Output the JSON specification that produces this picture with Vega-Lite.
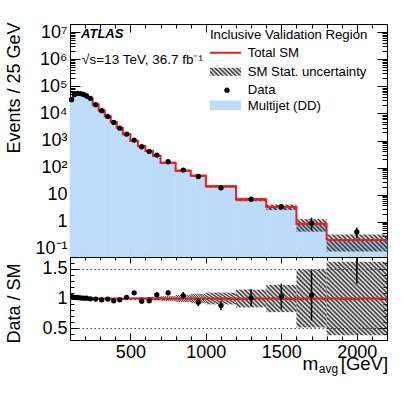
{
"$schema":"https://vega.github.io/schema/vega-lite/v6.json",
"background":"white",
"padding":{"left":4,"top":14,"right":0,"bottom":0},
"spacing":0,
"bounds":"flush",
"resolve":{"scale":{"x":"independent","y":"independent"}},
"config":{
 "view":{"stroke":"black","strokeWidth":1},
 "font":"Liberation Sans",
 "axis":{"domain":false,"grid":false,"labelFont":"Liberation Sans","titleFont":"Liberation Sans","labelColor":"black","titleColor":"black","tickColor":"black","tickWidth":1,"labelFontSize":18,"titleFontSize":18,"titleFontWeight":"normal","labelFlush":false,"labelOverlap":false,"labelBound":false}
},
"datasets":{"bins":[
{"lo":100,"hi":120,"c":110,"sm":31140,"slo":30984,"shi":31296,"data":32200,"dlo":32000,"dhi":32400,"ratio":1.034,"rlo":1.028,"rhi":1.040,"blo":0.995,"bhi":1.005},
{"lo":120,"hi":140,"c":130,"sm":49020,"slo":48775,"shi":49265,"data":50000,"dlo":49750,"dhi":50250,"ratio":1.020,"rlo":1.015,"rhi":1.025,"blo":0.995,"bhi":1.005},
{"lo":140,"hi":160,"c":150,"sm":54080,"slo":53810,"shi":54350,"data":55000,"dlo":54740,"dhi":55260,"ratio":1.017,"rlo":1.012,"rhi":1.022,"blo":0.995,"bhi":1.005},
{"lo":160,"hi":180,"c":170,"sm":53470,"slo":53203,"shi":53737,"data":54000,"dlo":53740,"dhi":54260,"ratio":1.010,"rlo":1.005,"rhi":1.015,"blo":0.995,"bhi":1.005},
{"lo":180,"hi":200,"c":190,"sm":49700,"slo":49452,"shi":49949,"data":50000,"dlo":49750,"dhi":50250,"ratio":1.006,"rlo":1.001,"rhi":1.011,"blo":0.995,"bhi":1.005},
{"lo":200,"hi":220,"c":210,"sm":43740,"slo":43521,"shi":43959,"data":44000,"dlo":43770,"dhi":44230,"ratio":1.006,"rlo":1.001,"rhi":1.011,"blo":0.995,"bhi":1.005},
{"lo":220,"hi":250,"c":235,"sm":36180,"slo":35999,"shi":36361,"data":36000,"dlo":35830,"dhi":36170,"ratio":0.995,"rlo":0.990,"rhi":1.000,"blo":0.995,"bhi":1.005},
{"lo":250,"hi":290,"c":270,"sm":21210,"slo":21104,"shi":21316,"data":21000,"dlo":20880,"dhi":21120,"ratio":0.990,"rlo":0.985,"rhi":0.995,"blo":0.995,"bhi":1.005},
{"lo":290,"hi":330,"c":310,"sm":12880,"slo":12777,"shi":12983,"data":12600,"dlo":12510,"dhi":12690,"ratio":0.978,"rlo":0.971,"rhi":0.985,"blo":0.992,"bhi":1.008},
{"lo":330,"hi":370,"c":350,"sm":7850,"slo":7787,"shi":7913,"data":7770,"dlo":7700,"dhi":7840,"ratio":0.990,"rlo":0.981,"rhi":0.999,"blo":0.992,"bhi":1.008},
{"lo":370,"hi":410,"c":390,"sm":4850,"slo":4811,"shi":4889,"data":4660,"dlo":4606,"dhi":4714,"ratio":0.960,"rlo":0.949,"rhi":0.971,"blo":0.992,"bhi":1.008},
{"lo":410,"hi":450,"c":430,"sm":2900,"slo":2877,"shi":2923,"data":2840,"dlo":2798,"dhi":2882,"ratio":0.978,"rlo":0.964,"rhi":0.992,"blo":0.992,"bhi":1.008},
{"lo":450,"hi":500,"c":475,"sm":1700,"slo":1680,"shi":1720,"data":1730,"dlo":1701,"dhi":1759,"ratio":1.020,"rlo":1.003,"rhi":1.037,"blo":0.988,"bhi":1.012},
{"lo":500,"hi":550,"c":525,"sm":950,"slo":936,"shi":964,"data":1040,"dlo":1017,"dhi":1063,"ratio":1.096,"rlo":1.072,"rhi":1.120,"blo":0.985,"bhi":1.015},
{"lo":550,"hi":600,"c":575,"sm":616,"slo":604,"shi":628,"data":588,"dlo":571,"dhi":605,"ratio":0.955,"rlo":0.927,"rhi":0.983,"blo":0.980,"bhi":1.020},
{"lo":600,"hi":650,"c":625,"sm":410,"slo":400,"shi":420,"data":394,"dlo":380,"dhi":408,"ratio":0.960,"rlo":0.925,"rhi":0.995,"blo":0.975,"bhi":1.025},
{"lo":650,"hi":700,"c":675,"sm":273,"slo":265,"shi":281,"data":290,"dlo":278,"dhi":302,"ratio":1.062,"rlo":1.018,"rhi":1.106,"blo":0.970,"bhi":1.030},
{"lo":700,"hi":800,"c":750,"sm":150,"slo":144,"shi":156,"data":164,"dlo":158,"dhi":170,"ratio":1.096,"rlo":1.053,"rhi":1.139,"blo":0.960,"bhi":1.040},
{"lo":800,"hi":900,"c":850,"sm":76.9,"slo":72.3,"shi":81.5,"data":80.7,"dlo":76.2,"dhi":85.2,"ratio":1.050,"rlo":0.991,"rhi":1.109,"blo":0.940,"bhi":1.060},
{"lo":900,"hi":1000,"c":950,"sm":49.9,"slo":45.9,"shi":53.9,"data":46.8,"dlo":43.4,"dhi":50.2,"ratio":0.937,"rlo":0.868,"rhi":1.006,"blo":0.920,"bhi":1.080},
{"lo":1000,"hi":1200,"c":1100,"sm":20.3,"slo":18.3,"shi":22.3,"data":17.9,"dlo":16.4,"dhi":19.4,"ratio":0.880,"rlo":0.806,"rhi":0.954,"blo":0.900,"bhi":1.100},
{"lo":1200,"hi":1400,"c":1300,"sm":6.7,"slo":5.7,"shi":7.7,"data":6.8,"dlo":5.85,"dhi":7.75,"ratio":1.010,"rlo":0.863,"rhi":1.157,"blo":0.850,"bhi":1.150},
{"lo":1400,"hi":1600,"c":1500,"sm":3.5,"slo":2.7,"shi":4.3,"data":3.6,"dlo":2.9,"dhi":4.4,"ratio":1.034,"rlo":0.824,"rhi":1.250,"blo":0.770,"bhi":1.230},
{"lo":1600,"hi":1800,"c":1700,"sm":0.84,"slo":0.43,"shi":1.25,"data":0.88,"dlo":0.5,"dhi":1.42,"ratio":1.056,"rlo":0.627,"rhi":1.475,"blo":0.510,"bhi":1.490},
{"lo":1800,"hi":2200,"c":2000,"sm":0.21,"slo":0.08,"shi":0.34,"data":0.42,"dlo":0.24,"dhi":0.62,"ratio":2.0,"rlo":1.25,"rhi":2.75,"blo":0.380,"bhi":1.620}
]},
"vconcat":[
{
"width":317,"height":233,
"resolve":{"axis":{"x":"independent","y":"independent"}},
"layer":[
 {"data":{"name":"bins"},
  "mark":{"type":"rect","fill":"#bddcfb","stroke":"#bddcfb","strokeWidth":0.6},
  "encoding":{
   "x":{"field":"lo","type":"quantitative","scale":{"domain":[100,2200],"nice":false,"zero":false},
        "axis":{"orient":"bottom","values":[100,200,300,400,500,600,700,800,900,1000,1100,1200,1300,1400,1500,1600,1700,1800,1900,2000,2100,2200],"labels":false,"title":null,"tickSize":{"condition":{"test":"datum.value % 500 !== 0","value":-4},"value":-8}}},
   "x2":{"field":"hi"},
   "y":{"field":"sm","type":"quantitative","scale":{"type":"log","domain":[0.05,20000000],"nice":false},
        "axis":{"orient":"left","values":[0.05,0.06,0.07,0.08,0.09,0.1,0.2,0.3,0.4,0.5,0.6,0.7,0.8,0.9,1,2,3,4,5,6,7,8,9,10,20,30,40,50,60,70,80,90,100,200,300,400,500,600,700,800,900,1000,2000,3000,4000,5000,6000,7000,8000,9000,10000,20000,30000,40000,50000,60000,70000,80000,90000,100000,200000,300000,400000,500000,600000,700000,800000,900000,1000000,2000000,3000000,4000000,5000000,6000000,7000000,8000000,9000000,10000000,20000000],
        "labelExpr":"abs(log(datum.value)/LN10 - round(log(datum.value)/LN10)) > 0.001 ? '' : ['10⁻¹','1','10','10²','10³','10⁴','10⁵','10⁶','10⁷'][round(log(datum.value)/LN10)+1]",
        "labelPadding":13,
        "tickSize":{"condition":{"test":"abs(log(datum.value)/LN10 - round(log(datum.value)/LN10)) > 0.001","value":-5},"value":-10},
        "title":"Events / 25 GeV","titleAngle":-90,"titleAlign":"right","titleBaseline":"alphabetic","titleX":-50.7,"titleY":-2}},
   "y2":{"datum":0.05}
  }},
 {"data":{"name":"bins"},"transform":[{"filter":"datum.lo < 1600"}],
  "mark":{"type":"rect","strokeWidth":0,"fill":{"gradient":"linear","x1":0,"y1":1,"x2":1.12,"y2":0.83,"stops":[
   {"offset":0,"color":"#333333"},{"offset":0.0714,"color":"transparent"},{"offset":0.1429,"color":"#333333"},{"offset":0.2143,"color":"transparent"},{"offset":0.2857,"color":"#333333"},{"offset":0.3571,"color":"transparent"},{"offset":0.4286,"color":"#333333"},{"offset":0.5,"color":"transparent"},{"offset":0.5714,"color":"#333333"},{"offset":0.6429,"color":"transparent"},{"offset":0.7143,"color":"#333333"},{"offset":0.7857,"color":"transparent"},{"offset":0.8571,"color":"#333333"},{"offset":0.9286,"color":"transparent"},{"offset":1,"color":"#333333"}]}},
  "encoding":{"x":{"field":"lo","type":"quantitative","axis":null},"x2":{"field":"hi"},"y":{"field":"slo","type":"quantitative","axis":null},"y2":{"field":"shi"}}},
 {"data":{"name":"bins"},"transform":[{"filter":"datum.lo == 1600"}],
  "mark":{"type":"rect","strokeWidth":0,"fill":{"gradient":"linear","x1":0,"y1":1,"x2":1.207,"y2":0.498,"stops":[
   {"offset":0,"color":"#333333"},{"offset":0.05,"color":"transparent"},{"offset":0.1,"color":"#333333"},{"offset":0.15,"color":"transparent"},{"offset":0.2,"color":"#333333"},{"offset":0.25,"color":"transparent"},{"offset":0.3,"color":"#333333"},{"offset":0.35,"color":"transparent"},{"offset":0.4,"color":"#333333"},{"offset":0.45,"color":"transparent"},{"offset":0.5,"color":"#333333"},{"offset":0.55,"color":"transparent"},{"offset":0.6,"color":"#333333"},{"offset":0.65,"color":"transparent"},{"offset":0.7,"color":"#333333"},{"offset":0.75,"color":"transparent"},{"offset":0.8,"color":"#333333"},{"offset":0.85,"color":"transparent"},{"offset":0.9,"color":"#333333"},{"offset":0.95,"color":"transparent"},{"offset":1,"color":"#333333"}]}},
  "encoding":{"x":{"field":"lo","type":"quantitative","axis":null},"x2":{"field":"hi"},"y":{"field":"slo","type":"quantitative","axis":null},"y2":{"field":"shi"}}},
 {"data":{"name":"bins"},"transform":[{"filter":"datum.lo == 1800"}],
  "mark":{"type":"rect","strokeWidth":0,"fill":{"gradient":"linear","x1":0,"y1":1,"x2":1.188,"y2":0.665,"stops":[
   {"offset":0,"color":"#333333"},{"offset":0.0294,"color":"transparent"},{"offset":0.0588,"color":"#333333"},{"offset":0.0882,"color":"transparent"},{"offset":0.1176,"color":"#333333"},{"offset":0.1471,"color":"transparent"},{"offset":0.1765,"color":"#333333"},{"offset":0.2059,"color":"transparent"},{"offset":0.2353,"color":"#333333"},{"offset":0.2647,"color":"transparent"},{"offset":0.2941,"color":"#333333"},{"offset":0.3235,"color":"transparent"},{"offset":0.3529,"color":"#333333"},{"offset":0.3824,"color":"transparent"},{"offset":0.4118,"color":"#333333"},{"offset":0.4412,"color":"transparent"},{"offset":0.4706,"color":"#333333"},{"offset":0.5,"color":"transparent"},{"offset":0.5294,"color":"#333333"},{"offset":0.5588,"color":"transparent"},{"offset":0.5882,"color":"#333333"},{"offset":0.6176,"color":"transparent"},{"offset":0.6471,"color":"#333333"},{"offset":0.6765,"color":"transparent"},{"offset":0.7059,"color":"#333333"},{"offset":0.7353,"color":"transparent"},{"offset":0.7647,"color":"#333333"},{"offset":0.7941,"color":"transparent"},{"offset":0.8235,"color":"#333333"},{"offset":0.8529,"color":"transparent"},{"offset":0.8824,"color":"#333333"},{"offset":0.9118,"color":"transparent"},{"offset":0.9412,"color":"#333333"},{"offset":0.9706,"color":"transparent"},{"offset":1,"color":"#333333"}]}},
  "encoding":{"x":{"field":"lo","type":"quantitative","axis":null},"x2":{"field":"hi"},"y":{"field":"slo","type":"quantitative","axis":null},"y2":{"field":"shi"}}},
 {"data":{"name":"bins"},"mark":{"type":"rule","color":"#ee1c1c","strokeWidth":2},
  "encoding":{"x":{"field":"lo","type":"quantitative","axis":null},"x2":{"field":"hi"},"y":{"field":"sm","type":"quantitative","axis":null}}},
 {"data":{"name":"bins"},"mark":{"type":"line","color":"#ee1c1c","strokeWidth":2,"interpolate":"step-after"},
  "encoding":{
   "x":{"field":"lo","type":"quantitative","axis":{"orient":"top","values":[100,200,300,400,500,600,700,800,900,1000,1100,1200,1300,1400,1500,1600,1700,1800,1900,2000,2100,2200],"labels":false,"title":null,"tickSize":{"condition":{"test":"datum.value % 500 !== 0","value":-4},"value":-8}}},
   "y":{"field":"sm","type":"quantitative","axis":{"orient":"right","values":[0.05,0.06,0.07,0.08,0.09,0.1,0.2,0.3,0.4,0.5,0.6,0.7,0.8,0.9,1,2,3,4,5,6,7,8,9,10,20,30,40,50,60,70,80,90,100,200,300,400,500,600,700,800,900,1000,2000,3000,4000,5000,6000,7000,8000,9000,10000,20000,30000,40000,50000,60000,70000,80000,90000,100000,200000,300000,400000,500000,600000,700000,800000,900000,1000000,2000000,3000000,4000000,5000000,6000000,7000000,8000000,9000000,10000000,20000000],"labels":false,"title":null,"tickSize":{"condition":{"test":"abs(log(datum.value)/LN10 - round(log(datum.value)/LN10)) > 0.001","value":-5},"value":-10}}}}},
 {"data":{"name":"bins"},"mark":{"type":"rule","color":"black","strokeWidth":1.5},
  "encoding":{"x":{"field":"c","type":"quantitative","axis":null},"y":{"field":"dlo","type":"quantitative","axis":null},"y2":{"field":"dhi"}}},
 {"data":{"name":"bins"},"mark":{"type":"circle","size":28,"color":"black","opacity":1},
  "encoding":{"x":{"field":"c","type":"quantitative","axis":null},"y":{"field":"data","type":"quantitative","axis":null}}},
 {"data":{"values":[{}]},"mark":{"type":"text","text":"ATLAS","fontStyle":"italic","fontWeight":"bold","fontSize":13,"align":"left","baseline":"middle","color":"black"},
  "encoding":{"x":{"datum":173,"type":"quantitative","axis":null},"y":{"datum":8500000,"type":"quantitative","axis":null}}},
 {"data":{"values":[{}]},"mark":{"type":"text","text":"√s=13 TeV, 36.7 fb⁻¹","fontSize":13.5,"align":"left","baseline":"middle","color":"black"},
  "encoding":{"x":{"datum":180,"type":"quantitative","axis":null},"y":{"datum":910000,"type":"quantitative","axis":null}}},
 {"data":{"values":[{}]},"mark":{"type":"text","text":"Inclusive Validation Region","fontSize":13.2,"align":"left","baseline":"middle","color":"black"},
  "encoding":{"x":{"datum":1027,"type":"quantitative","axis":null},"y":{"datum":7600000,"type":"quantitative","axis":null}}},
 {"data":{"values":[{}]},"mark":{"type":"rule","color":"#ee1c1c","strokeWidth":2},
  "encoding":{"x":{"datum":1027,"type":"quantitative","axis":null},"x2":{"datum":1233},"y":{"datum":1750000,"type":"quantitative","axis":null}}},
 {"data":{"values":[{}]},"mark":{"type":"text","text":"Total SM","fontSize":13.2,"align":"left","baseline":"middle","color":"black"},
  "encoding":{"x":{"datum":1277,"type":"quantitative","axis":null},"y":{"datum":1750000,"type":"quantitative","axis":null}}},
 {"data":{"values":[{}]},
  "mark":{"type":"rect","strokeWidth":0,"fill":{"gradient":"linear","x1":0,"y1":1,"x2":1.179,"y2":0.696,"stops":[
   {"offset":0,"color":"#333333"},{"offset":0.0556,"color":"transparent"},{"offset":0.1111,"color":"#333333"},{"offset":0.1667,"color":"transparent"},{"offset":0.2222,"color":"#333333"},{"offset":0.2778,"color":"transparent"},{"offset":0.3333,"color":"#333333"},{"offset":0.3889,"color":"transparent"},{"offset":0.4444,"color":"#333333"},{"offset":0.5,"color":"transparent"},{"offset":0.5556,"color":"#333333"},{"offset":0.6111,"color":"transparent"},{"offset":0.6667,"color":"#333333"},{"offset":0.7222,"color":"transparent"},{"offset":0.7778,"color":"#333333"},{"offset":0.8333,"color":"transparent"},{"offset":0.8889,"color":"#333333"},{"offset":0.9444,"color":"transparent"},{"offset":1,"color":"#333333"}]}},
  "encoding":{"x":{"datum":1027,"type":"quantitative","axis":null},"x2":{"datum":1233},"y":{"datum":245000,"type":"quantitative","axis":null},"y2":{"datum":480000}}},
 {"data":{"values":[{}]},"mark":{"type":"text","text":"SM Stat. uncertainty","fontSize":13.2,"align":"left","baseline":"middle","color":"black"},
  "encoding":{"x":{"datum":1277,"type":"quantitative","axis":null},"y":{"datum":340000,"type":"quantitative","axis":null}}},
 {"data":{"values":[{}]},"mark":{"type":"circle","size":28,"color":"black","opacity":1},
  "encoding":{"x":{"datum":1140,"type":"quantitative","axis":null},"y":{"datum":72000,"type":"quantitative","axis":null}}},
 {"data":{"values":[{}]},"mark":{"type":"text","text":"Data","fontSize":13.2,"align":"left","baseline":"middle","color":"black"},
  "encoding":{"x":{"datum":1277,"type":"quantitative","axis":null},"y":{"datum":72000,"type":"quantitative","axis":null}}},
 {"data":{"values":[{}]},"mark":{"type":"rect","fill":"#bddcfb"},
  "encoding":{"x":{"datum":1027,"type":"quantitative","axis":null},"x2":{"datum":1233},"y":{"datum":13000,"type":"quantitative","axis":null},"y2":{"datum":30000}}},
 {"data":{"values":[{}]},"mark":{"type":"text","text":"Multijet (DD)","fontSize":13.2,"align":"left","baseline":"middle","color":"black"},
  "encoding":{"x":{"datum":1277,"type":"quantitative","axis":null},"y":{"datum":19500,"type":"quantitative","axis":null}}}
]},
{
"width":317,"height":83,
"resolve":{"axis":{"x":"independent","y":"independent"}},
"layer":[
 {"data":{"name":"bins"},"transform":[{"filter":"datum.lo < 1400"}],
  "mark":{"type":"rect","strokeWidth":0,"fill":{"gradient":"linear","x1":0,"y1":1,"x2":1.18,"y2":0.305,"stops":[
   {"offset":0,"color":"#333333"},{"offset":0.0455,"color":"transparent"},{"offset":0.0909,"color":"#333333"},{"offset":0.1364,"color":"transparent"},{"offset":0.1818,"color":"#333333"},{"offset":0.2273,"color":"transparent"},{"offset":0.2727,"color":"#333333"},{"offset":0.3182,"color":"transparent"},{"offset":0.3636,"color":"#333333"},{"offset":0.4091,"color":"transparent"},{"offset":0.4545,"color":"#333333"},{"offset":0.5,"color":"transparent"},{"offset":0.5455,"color":"#333333"},{"offset":0.5909,"color":"transparent"},{"offset":0.6364,"color":"#333333"},{"offset":0.6818,"color":"transparent"},{"offset":0.7273,"color":"#333333"},{"offset":0.7727,"color":"transparent"},{"offset":0.8182,"color":"#333333"},{"offset":0.8636,"color":"transparent"},{"offset":0.9091,"color":"#333333"},{"offset":0.9545,"color":"transparent"},{"offset":1,"color":"#333333"}]}},
  "encoding":{
   "x":{"field":"lo","type":"quantitative","scale":{"domain":[100,2200],"nice":false,"zero":false},
        "axis":{"orient":"bottom","values":[100,200,300,400,500,600,700,800,900,1000,1100,1200,1300,1400,1500,1600,1700,1800,1900,2000,2100,2200],"labelExpr":"datum.value % 500 === 0 ? format(datum.value, 'd') : ''","labelPadding":10,"title":null,"tickSize":{"condition":{"test":"datum.value % 500 !== 0","value":-4},"value":-7}}},
   "x2":{"field":"hi"},
   "y":{"field":"blo","type":"quantitative","scale":{"domain":[0.3,1.7],"nice":false,"zero":false},
        "axis":{"orient":"left","values":[0.3,0.4,0.5,0.6,0.7,0.8,0.9,1,1.1,1.2,1.3,1.4,1.5,1.6,1.7],
        "labelExpr":"datum.value === 0.5 ? '0.5' : datum.value === 1 ? '1' : datum.value === 1.5 ? '1.5' : ''",
        "labelPadding":11,
        "tickSize":{"condition":{"test":"datum.value !== 0.5 && datum.value !== 1 && datum.value !== 1.5","value":-4},"value":-8},
        "grid":true,"gridDash":[1.5,2.5],"gridColor":"#444444","gridWidth":1,
        "gridOpacity":{"condition":{"test":"datum.value === 0.5 || datum.value === 1 || datum.value === 1.5","value":1},"value":0},
        "title":"Data / SM","titleAngle":-90,"titleAlign":"right","titleBaseline":"alphabetic","titleX":-50.7,"titleY":6}},
   "y2":{"field":"bhi"}
  }},
 {"data":{"name":"bins"},"transform":[{"filter":"datum.lo == 1400"}],
  "mark":{"type":"rect","strokeWidth":0,"fill":{"gradient":"linear","x1":0,"y1":1,"x2":1.048,"y2":0.053,"stops":[
   {"offset":0,"color":"#333333"},{"offset":0.0385,"color":"transparent"},{"offset":0.0769,"color":"#333333"},{"offset":0.1154,"color":"transparent"},{"offset":0.1538,"color":"#333333"},{"offset":0.1923,"color":"transparent"},{"offset":0.2308,"color":"#333333"},{"offset":0.2692,"color":"transparent"},{"offset":0.3077,"color":"#333333"},{"offset":0.3462,"color":"transparent"},{"offset":0.3846,"color":"#333333"},{"offset":0.4231,"color":"transparent"},{"offset":0.4615,"color":"#333333"},{"offset":0.5,"color":"transparent"},{"offset":0.5385,"color":"#333333"},{"offset":0.5769,"color":"transparent"},{"offset":0.6154,"color":"#333333"},{"offset":0.6538,"color":"transparent"},{"offset":0.6923,"color":"#333333"},{"offset":0.7308,"color":"transparent"},{"offset":0.7692,"color":"#333333"},{"offset":0.8077,"color":"transparent"},{"offset":0.8462,"color":"#333333"},{"offset":0.8846,"color":"transparent"},{"offset":0.9231,"color":"#333333"},{"offset":0.9615,"color":"transparent"},{"offset":1,"color":"#333333"}]}},
  "encoding":{"x":{"field":"lo","type":"quantitative","axis":null},"x2":{"field":"hi"},"y":{"field":"blo","type":"quantitative","axis":null},"y2":{"field":"bhi"}}},
 {"data":{"name":"bins"},"transform":[{"filter":"datum.lo == 1600"}],
  "mark":{"type":"rect","strokeWidth":0,"fill":{"gradient":"linear","x1":0,"y1":1,"x2":0.622,"y2":-0.197,"stops":[
   {"offset":0,"color":"#333333"},{"offset":0.0263,"color":"transparent"},{"offset":0.0526,"color":"#333333"},{"offset":0.0789,"color":"transparent"},{"offset":0.1053,"color":"#333333"},{"offset":0.1316,"color":"transparent"},{"offset":0.1579,"color":"#333333"},{"offset":0.1842,"color":"transparent"},{"offset":0.2105,"color":"#333333"},{"offset":0.2368,"color":"transparent"},{"offset":0.2632,"color":"#333333"},{"offset":0.2895,"color":"transparent"},{"offset":0.3158,"color":"#333333"},{"offset":0.3421,"color":"transparent"},{"offset":0.3684,"color":"#333333"},{"offset":0.3947,"color":"transparent"},{"offset":0.4211,"color":"#333333"},{"offset":0.4474,"color":"transparent"},{"offset":0.4737,"color":"#333333"},{"offset":0.5,"color":"transparent"},{"offset":0.5263,"color":"#333333"},{"offset":0.5526,"color":"transparent"},{"offset":0.5789,"color":"#333333"},{"offset":0.6053,"color":"transparent"},{"offset":0.6316,"color":"#333333"},{"offset":0.6579,"color":"transparent"},{"offset":0.6842,"color":"#333333"},{"offset":0.7105,"color":"transparent"},{"offset":0.7368,"color":"#333333"},{"offset":0.7632,"color":"transparent"},{"offset":0.7895,"color":"#333333"},{"offset":0.8158,"color":"transparent"},{"offset":0.8421,"color":"#333333"},{"offset":0.8684,"color":"transparent"},{"offset":0.8947,"color":"#333333"},{"offset":0.9211,"color":"transparent"},{"offset":0.9474,"color":"#333333"},{"offset":0.9737,"color":"transparent"},{"offset":1,"color":"#333333"}]}},
  "encoding":{"x":{"field":"lo","type":"quantitative","axis":null},"x2":{"field":"hi"},"y":{"field":"blo","type":"quantitative","axis":null},"y2":{"field":"bhi"}}},
 {"data":{"name":"bins"},"transform":[{"filter":"datum.lo == 1800"}],
  "mark":{"type":"rect","strokeWidth":0,"fill":{"gradient":"linear","x1":0,"y1":1,"x2":0.894,"y2":-0.088,"stops":[
   {"offset":0,"color":"#333333"},{"offset":0.0167,"color":"transparent"},{"offset":0.0333,"color":"#333333"},{"offset":0.05,"color":"transparent"},{"offset":0.0667,"color":"#333333"},{"offset":0.0833,"color":"transparent"},{"offset":0.1,"color":"#333333"},{"offset":0.1167,"color":"transparent"},{"offset":0.1333,"color":"#333333"},{"offset":0.15,"color":"transparent"},{"offset":0.1667,"color":"#333333"},{"offset":0.1833,"color":"transparent"},{"offset":0.2,"color":"#333333"},{"offset":0.2167,"color":"transparent"},{"offset":0.2333,"color":"#333333"},{"offset":0.25,"color":"transparent"},{"offset":0.2667,"color":"#333333"},{"offset":0.2833,"color":"transparent"},{"offset":0.3,"color":"#333333"},{"offset":0.3167,"color":"transparent"},{"offset":0.3333,"color":"#333333"},{"offset":0.35,"color":"transparent"},{"offset":0.3667,"color":"#333333"},{"offset":0.3833,"color":"transparent"},{"offset":0.4,"color":"#333333"},{"offset":0.4167,"color":"transparent"},{"offset":0.4333,"color":"#333333"},{"offset":0.45,"color":"transparent"},{"offset":0.4667,"color":"#333333"},{"offset":0.4833,"color":"transparent"},{"offset":0.5,"color":"#333333"},{"offset":0.5167,"color":"transparent"},{"offset":0.5333,"color":"#333333"},{"offset":0.55,"color":"transparent"},{"offset":0.5667,"color":"#333333"},{"offset":0.5833,"color":"transparent"},{"offset":0.6,"color":"#333333"},{"offset":0.6167,"color":"transparent"},{"offset":0.6333,"color":"#333333"},{"offset":0.65,"color":"transparent"},{"offset":0.6667,"color":"#333333"},{"offset":0.6833,"color":"transparent"},{"offset":0.7,"color":"#333333"},{"offset":0.7167,"color":"transparent"},{"offset":0.7333,"color":"#333333"},{"offset":0.75,"color":"transparent"},{"offset":0.7667,"color":"#333333"},{"offset":0.7833,"color":"transparent"},{"offset":0.8,"color":"#333333"},{"offset":0.8167,"color":"transparent"},{"offset":0.8333,"color":"#333333"},{"offset":0.85,"color":"transparent"},{"offset":0.8667,"color":"#333333"},{"offset":0.8833,"color":"transparent"},{"offset":0.9,"color":"#333333"},{"offset":0.9167,"color":"transparent"},{"offset":0.9333,"color":"#333333"},{"offset":0.95,"color":"transparent"},{"offset":0.9667,"color":"#333333"},{"offset":0.9833,"color":"transparent"},{"offset":1,"color":"#333333"}]}},
  "encoding":{"x":{"field":"lo","type":"quantitative","axis":null},"x2":{"field":"hi"},"y":{"field":"blo","type":"quantitative","axis":null},"y2":{"field":"bhi"}}},
 {"data":{"values":[{}]},"mark":{"type":"rule","color":"#ee1c1c","strokeWidth":2},
  "encoding":{"x":{"datum":100,"type":"quantitative","axis":null},"x2":{"datum":2200},"y":{"datum":1,"type":"quantitative","axis":null}}},
 {"data":{"name":"bins"},"mark":{"type":"rule","color":"black","strokeWidth":1.5,"clip":true},
  "encoding":{
   "x":{"field":"c","type":"quantitative","axis":{"orient":"top","values":[100,200,300,400,500,600,700,800,900,1000,1100,1200,1300,1400,1500,1600,1700,1800,1900,2000,2100,2200],"labels":false,"title":null,"tickSize":{"condition":{"test":"datum.value % 500 !== 0","value":-3},"value":-6}}},
   "y":{"field":"rlo","type":"quantitative","axis":{"orient":"right","values":[0.3,0.4,0.5,0.6,0.7,0.8,0.9,1,1.1,1.2,1.3,1.4,1.5,1.6,1.7],"labels":false,"title":null,"tickSize":{"condition":{"test":"datum.value !== 0.5 && datum.value !== 1 && datum.value !== 1.5","value":-4},"value":-8}}},
   "y2":{"field":"rhi"}}},
 {"data":{"name":"bins"},"mark":{"type":"circle","size":28,"color":"black","opacity":1,"clip":true},
  "encoding":{"x":{"field":"c","type":"quantitative","axis":null},"y":{"field":"ratio","type":"quantitative","axis":null}}},
 {"data":{"values":[{}]},"mark":{"type":"text","text":"m","fontSize":19,"align":"left","baseline":"alphabetic","color":"black"},
  "encoding":{"x":{"datum":1641,"type":"quantitative","axis":null},"y":{"datum":-0.214,"type":"quantitative","axis":null}}},
 {"data":{"values":[{}]},"mark":{"type":"text","text":"avg","fontSize":12,"align":"left","baseline":"alphabetic","color":"black"},
  "encoding":{"x":{"datum":1748,"type":"quantitative","axis":null},"y":{"datum":-0.265,"type":"quantitative","axis":null}}},
 {"data":{"values":[{}]},"mark":{"type":"text","text":"[GeV]","fontSize":18.5,"align":"right","baseline":"alphabetic","color":"black"},
  "encoding":{"x":{"datum":2207,"type":"quantitative","axis":null},"y":{"datum":-0.214,"type":"quantitative","axis":null}}}
]}
]
}
